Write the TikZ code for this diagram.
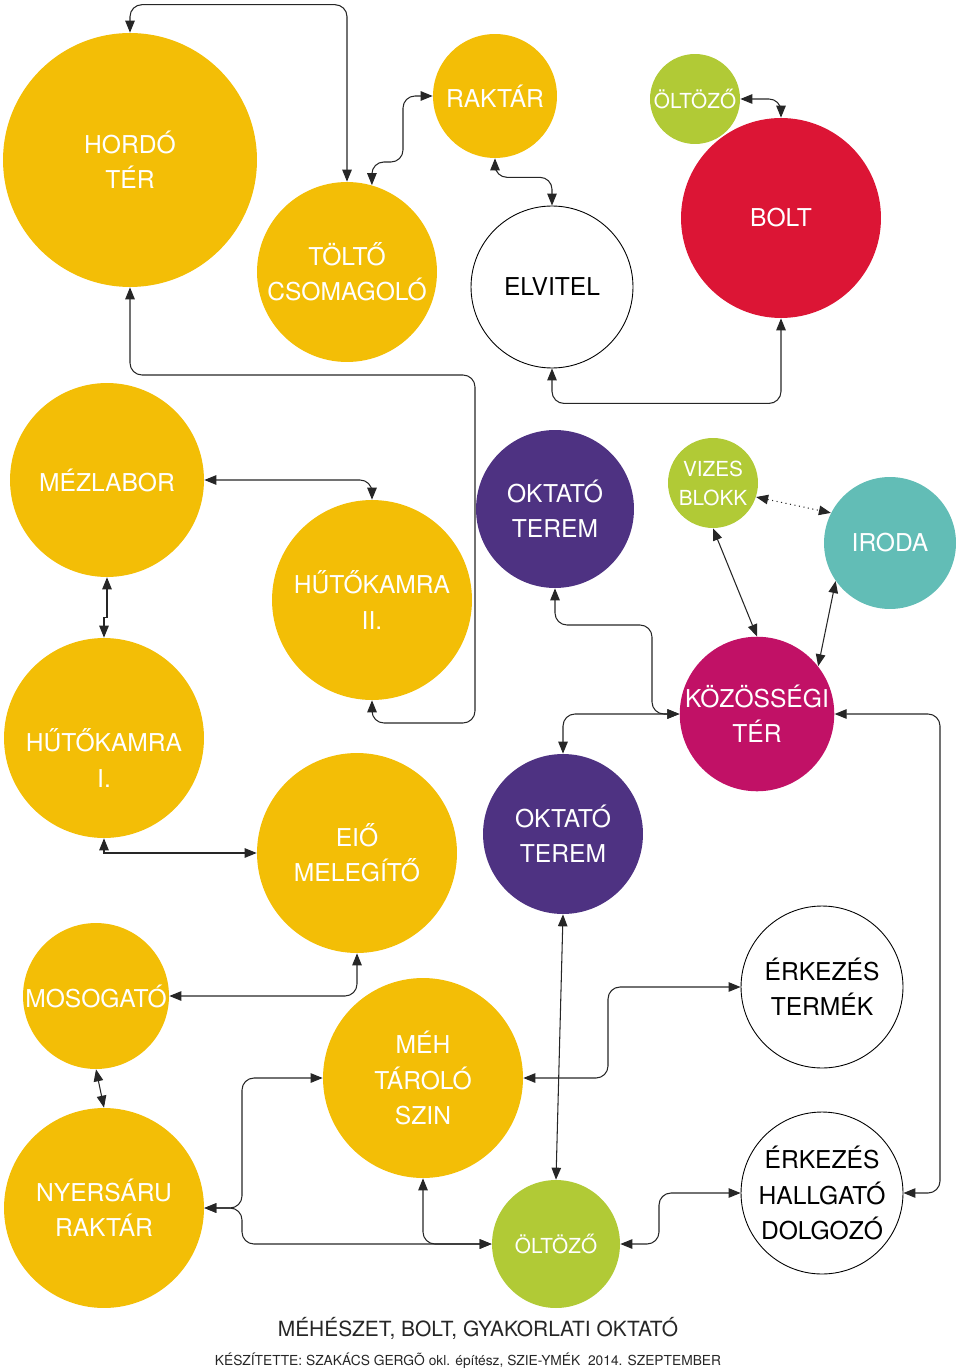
\documentclass[tikz,border=0pt]{standalone}
\usepackage{fontspec}
\setmainfont{TeX Gyre Heros}
\usetikzlibrary{arrows.meta, shapes.geometric}
\usepackage{xcolor}
\definecolor{honey}{HTML}{F3BE06}
\definecolor{shopred}{HTML}{DC1535}
\definecolor{plum}{HTML}{4E3282}
\definecolor{rose}{HTML}{C11166}
\definecolor{aqua}{HTML}{62BDB6}
\definecolor{leaf}{HTML}{B1CA36}
\definecolor{ink}{HTML}{262626}

\begin{document}
\begin{tikzpicture}[
    x=0.02cm, y=-0.02cm,
    room/.style={circle, inner sep=0pt, align=center, text=white, font=\fontsize{14}{20}\selectfont, minimum size=#1},
    small/.style={font=\fontsize{11.8}{16.5}\selectfont},
    gate/.style={room=#1, fill=white, draw=black, line width=0.5pt, text=black},
    arrow/.style={{Triangle[length=2.4mm, width=1.9mm]}-{Triangle[length=2.4mm, width=1.9mm]}, line width=0.6pt, draw=ink, rounded corners=2.4mm}
]
\useasboundingbox (0,0) rectangle (960,1371);

\node (HT) [room=5.08cm, fill=honey] at (130,160) {HORDÓ\\TÉR};
\node (TC) [room=3.6cm, fill=honey] at (347,272) {TÖLTŐ\\CSOMAGOLÓ};
\node (RK) [room=2.48cm, fill=honey] at (495,96) {RAKTÁR};
\node (O1) [room=1.8cm, fill=leaf, small] at (695,99) {ÖLTÖZŐ};
\node (BO) [room=4cm, fill=shopred] at (781,218) {BOLT};
\node (EV) [gate=3.24cm] at (552,287) {ELVITEL};
\node (ML) [room=3.88cm, fill=honey] at (107,480) {MÉZLABOR};
\node (H2) [room=4cm, fill=honey] at (372,600) {HŰTŐKAMRA\\II.};
\node (OT1) [room=3.16cm, fill=plum] at (555,509) {OKTATÓ\\TEREM};
\node (VB) [room=1.8cm, fill=leaf, small] at (713,483) {VIZES\\BLOKK};
\node (IR) [room=2.64cm, fill=aqua] at (890,543) {IRODA};
\node (KT) [room=3.04cm, fill=rose] at (757,714) {KÖZÖSSÉGI\\TÉR};
\node (H1) [room=4cm, fill=honey, label={[text=white, align=center, font=\fontsize{14}{20}\selectfont, yshift=-0.4cm]center:HŰTŐKAMRA\\I.}] at (104,738) {};
\node (EM) [room=4cm, fill=honey] at (357,853) {EIŐ\\MELEGÍTŐ};
\node (OT2) [room=3.2cm, fill=plum] at (563,834) {OKTATÓ\\TEREM};
\node (MO) [room=2.92cm, fill=honey] at (96,996) {MOSOGATÓ};
\node (MT) [room=4cm, fill=honey] at (423,1078) {MÉH\\TÁROLÓ\\SZIN};
\node (NR) [room=4cm, fill=honey] at (104,1208) {NYERSÁRU\\RAKTÁR};
\node (O2) [room=2.56cm, fill=leaf, small] at (556,1244) {ÖLTÖZŐ};
\node (ET) [gate=3.24cm] at (822,987) {ÉRKEZÉS\\TERMÉK};
\node (EH) [gate=3.24cm] at (822,1193) {ÉRKEZÉS\\HALLGATÓ\\DOLGOZÓ};

\draw [arrow] (HT.north) -- ++(0,-28) -| (TC.north);
\draw [arrow] (TC.74) |- (403,162) |- (RK.west);
\draw [arrow] (RK.south) -- ++(0,19) -| (EV.north);
\draw [arrow] (O1.east) -| (BO.north);
\draw [arrow] (EV.south) -- ++(0,35) -| (BO.south);
\draw [arrow] (HT.south) |- (475,375) -- (475,723) -| (H2.south);
\draw [arrow] (ML.east) -| (H2.north);
\draw [arrow, sharp corners] (ML.south) -- ++(0,40) -| (H1.north);
\draw [arrow, sharp corners] (H1.south) |- (EM.west);
\draw [arrow] (OT1.south) |- (652,625) |- (KT.west);
\draw [arrow] (KT.west) -| (OT2.north);
\draw [arrow, dotted] (VB.-18) -- (IR.153);
\draw [arrow] (VB.south) -- (KT.north);
\draw [arrow] (IR.215) -- (KT.38);
\draw [arrow] (KT.east) -- (940,714) |- (EH.east);
\draw [arrow] (OT2.south) -- (O2.north);
\draw [arrow] (EM.south) |- (MO.east);
\draw [arrow] (MO.south) -- (NR.north);
\draw [arrow] (NR.east) -- (242,1208) |- (MT.west);
\draw [arrow] (NR.east) -- (242,1208) |- (O2.west);
\draw [arrow] (MT.south) |- (O2.west);
\draw [arrow] (MT.east) -- (608,1078) |- (ET.west);
\draw [arrow] (O2.east) -- (659,1244) |- (EH.west);

\node (title) [font=\fontsize{11.9}{14}\selectfont, text=ink] at (478,1328) {MÉHÉSZET, BOLT, GYAKORLATI OKTATÓ};
\node (credit) [font=\fontsize{7.85}{9}\selectfont, text=ink] at (468,1361) {KÉSZÍTETTE: SZAKÁCS GERGÕ okl. építész, SZIE-YMÉK\ \ 2014. SZEPTEMBER};

\end{tikzpicture}
\end{document}
